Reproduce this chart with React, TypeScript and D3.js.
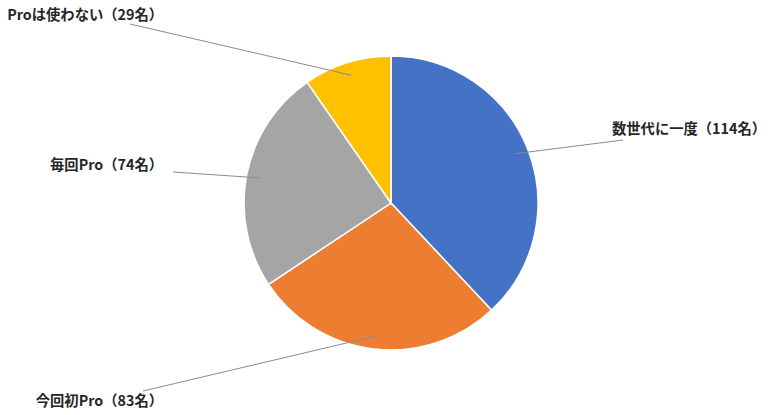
import React from "react";
import * as d3 from "d3";

const categories = ["数世代に一度", "今回初Pro", "毎回Pro", "Proは使わない"];
const values = [114, 83, 74, 29];
const colors = ["#4472C4", "#ED7D31", "#A5A5A5", "#FFC000"];

// label layout (anchor end of leader line, text position)
const labelLayout = [
  { lx: 623, ly: 140, tx: 612, ty: 129, anchor: "start" },
  { lx: 143, ly: 391, tx: 163, ty: 401, anchor: "end" },
  { lx: 173, ly: 172, tx: 163, ty: 165, anchor: "end" },
  { lx: 130, ly: 24, tx: 163, ty: 15, anchor: "end" },
];

const W = 780;
const H = 415;
const cx = 391;
const cy = 203;
const R = 147;

export default function App() {
  const pie = d3.pie<number>().sort(null).value((d) => d)(values);
  const arc = d3.arc<d3.PieArcDatum<number>>().innerRadius(0).outerRadius(R);
  const labelArc = d3.arc<d3.PieArcDatum<number>>().innerRadius(134).outerRadius(134);
  return (
    <div style={{ position: "fixed", left: 0, top: 0, background: "#fff" }}>
      <svg width={W} height={H} style={{ display: "block" }}>
        <rect width={W} height={H} fill="#fff" />
        <g transform={`translate(${cx},${cy})`}>
          {pie.map((p, i) => (
            <path key={i} d={arc(p) || ""} fill={colors[i]} stroke="#fff" strokeWidth={1.5} />
          ))}
        </g>
        {pie.map((p, i) => {
          const [x, y] = labelArc.centroid(p);
          const L = labelLayout[i];
          return (
            <g key={i}>
              <line x1={cx + x} y1={cy + y} x2={L.lx} y2={L.ly} stroke="#8c8c8c" strokeWidth={1} />
              <text
                x={L.tx}
                y={L.ty}
                dy="0.35em"
                textAnchor={L.anchor}
                fontFamily="'Noto Sans CJK JP', 'Noto Sans', sans-serif"
                fontWeight="bold"
                fontSize={14.3}
                fill="#262626"
              >
                {categories[i]}（{values[i]}名）
              </text>
            </g>
          );
        })}
      </svg>
    </div>
  );
}
